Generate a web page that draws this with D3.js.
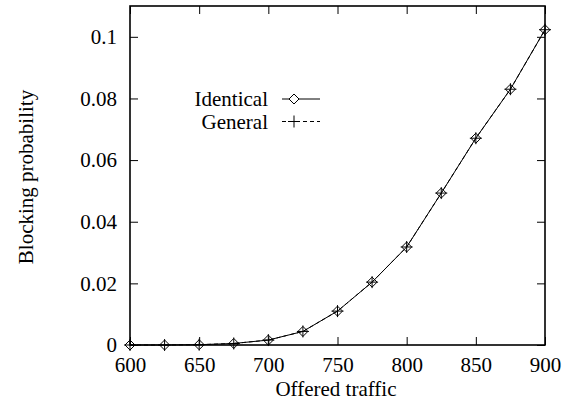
<!DOCTYPE html>
<html>
<head>
<meta charset="utf-8">
<script src="https://cdn.jsdelivr.net/npm/d3@7"></script>
</head>
<body style="margin:0;background:#fff">
<div id="chart"></div>
<script>
// offered traffic (x) and blocking probability for both models
const traffic = [600, 625, 650, 675, 700, 725, 750, 775, 800, 825, 850, 875, 900];
const identical = [0, 0, 0.0001, 0.0005, 0.0016, 0.0044, 0.011, 0.0204, 0.0318, 0.0493, 0.0671, 0.083, 0.1023];
const general = [0, 0, 0.0001, 0.0005, 0.0016, 0.0044, 0.011, 0.0204, 0.0318, 0.0493, 0.0671, 0.083, 0.1023];
const xTicks = [600, 650, 700, 750, 800, 850, 900];
const yTicks = [0, 0.02, 0.04, 0.06, 0.08, 0.1];
const seriesNames = ['Identical', 'General'];

const W = 571, H = 400;
const FONT = 'Liberation Serif';
const margin = { top: 6, right: 26, bottom: 55, left: 130 };
const width = W - margin.left - margin.right;
const height = H - margin.top - margin.bottom;

const svg = d3.select('#chart')
    .append('svg')
    .attr('width', W)
    .attr('height', H)
    .attr('font-family', FONT);

const g = svg.append('g')
    .attr('transform', `translate(${margin.left},${margin.top})`);

const x = d3.scaleLinear().domain([600, 900]).range([0, width]);
const y = d3.scaleLinear().domain([0, 0.11]).range([height, 0]);

const fmt = d => d === 0 ? '0' : String(+d.toFixed(2));

// axes, ticks pointing inward, mirrored on top/right
const styleAxis = sel => {
    sel.attr('font-family', FONT).attr('font-size', 21);
    sel.select('.domain').remove();
    sel.selectAll('line').attr('stroke', '#000').attr('stroke-width', 1);
    sel.selectAll('text').attr('fill', '#000').attr('font-family', FONT).attr('font-size', 21);
};

g.append('g')
    .attr('transform', `translate(0,${height})`)
    .call(d3.axisBottom(x).tickValues(xTicks).tickSize(-8).tickPadding(12).tickFormat(d3.format('d')))
    .call(styleAxis);

g.append('g')
    .call(d3.axisLeft(y).tickValues(yTicks).tickSize(-8).tickPadding(13).tickFormat(fmt))
    .call(styleAxis);

g.append('g')
    .call(d3.axisTop(x).tickValues(xTicks).tickSize(-8).tickFormat(''))
    .call(styleAxis);

g.append('g')
    .attr('transform', `translate(${width},0)`)
    .call(d3.axisRight(y).tickValues(yTicks).tickSize(-8).tickFormat(''))
    .call(styleAxis);

g.append('rect')
    .attr('width', width)
    .attr('height', height)
    .attr('fill', 'none')
    .attr('stroke', '#000')
    .attr('stroke-width', 1.6);

const line = d3.line()
    .x((d, i) => x(traffic[i]))
    .y(d => y(d));

const diamond = (px, py, r) => `M${px},${py - r}L${px + r},${py}L${px},${py + r}L${px - r},${py}Z`;
const plus = (px, py, r) => `M${px - r},${py}H${px + r}M${px},${py - r}V${py + r}`;

// General: dashed line with plus markers
g.append('path')
    .datum(general)
    .attr('fill', 'none')
    .attr('stroke', '#000')
    .attr('stroke-width', 1)
    .attr('stroke-dasharray', '4,3')
    .attr('d', line);

g.selectAll('.plus')
    .data(general)
    .join('path')
    .attr('class', 'plus')
    .attr('fill', 'none')
    .attr('stroke', '#000')
    .attr('stroke-width', 1)
    .attr('d', (d, i) => plus(x(traffic[i]), y(d), 6));

// Identical: solid line with diamond markers
g.append('path')
    .datum(identical)
    .attr('fill', 'none')
    .attr('stroke', '#000')
    .attr('stroke-width', 1)
    .attr('d', line);

g.selectAll('.diamond')
    .data(identical)
    .join('path')
    .attr('class', 'diamond')
    .attr('fill', 'none')
    .attr('stroke', '#000')
    .attr('stroke-width', 1)
    .attr('d', (d, i) => diamond(x(traffic[i]), y(d), 5));

// legend
const legend = svg.append('g');
seriesNames.forEach((name, i) => {
    const ly = 99 + i * 22.5;
    legend.append('text')
        .attr('x', 268)
        .attr('y', ly)
        .attr('dy', '0.35em')
        .attr('text-anchor', 'end')
        .attr('font-family', FONT)
        .attr('font-size', 21)
        .text(name);
    legend.append('line')
        .attr('x1', 282).attr('x2', 320)
        .attr('y1', ly).attr('y2', ly)
        .attr('stroke', '#000')
        .attr('stroke-width', 1)
        .attr('stroke-dasharray', i === 0 ? null : '4,3');
    legend.append('path')
        .attr('fill', i === 0 ? '#fff' : 'none')
        .attr('stroke', '#000')
        .attr('stroke-width', 1)
        .attr('d', i === 0 ? diamond(294, ly, 5) : plus(294, ly, 6));
});

// axis titles
svg.append('text')
    .attr('x', 336)
    .attr('y', 396)
    .attr('text-anchor', 'middle')
    .attr('font-family', FONT)
    .attr('font-size', 21)
    .text('Offered traffic');

svg.append('text')
    .attr('transform', 'translate(33,177) rotate(-90)')
    .attr('text-anchor', 'middle')
    .attr('font-family', FONT)
    .attr('font-size', 21)
    .text('Blocking probability');
</script>
</body>
</html>
